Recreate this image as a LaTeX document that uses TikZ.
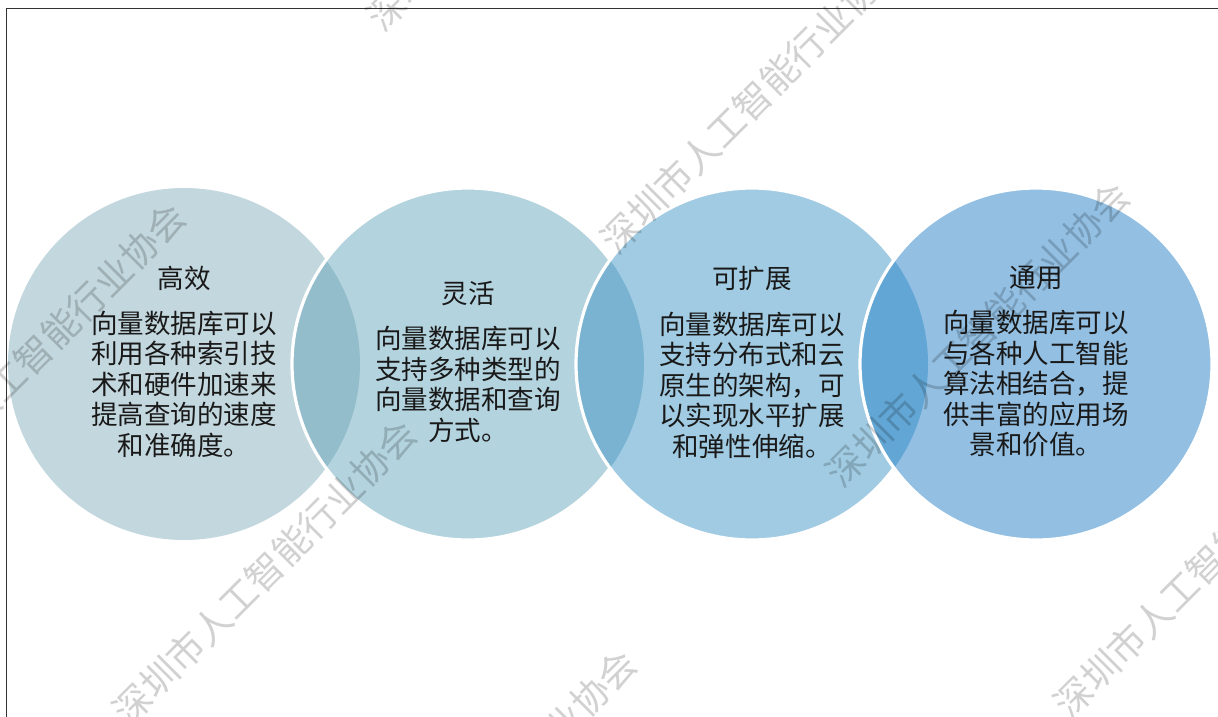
\documentclass[tikz,border=0pt]{standalone}
\usepackage{fontspec}
\setmainfont{Noto Sans CJK SC}
\definecolor{cA}{HTML}{C3D7DE}
\definecolor{cB}{HTML}{B3D3DE}
\definecolor{cC}{HTML}{A0CBE2}
\definecolor{cD}{HTML}{92BFE2}
\definecolor{oAB}{HTML}{94BDCB}
\definecolor{oBC}{HTML}{7AB3D1}
\definecolor{oCD}{HTML}{62A6D5}
\definecolor{framecol}{HTML}{333333}
\tikzset{
  ring/.style={draw=white, line width=2.4pt},
  txt/.style={align=center, inner sep=0pt, text=black!90,
    font=\fontsize{19.9pt}{22.9pt}\selectfont},
  wm/.style={rotate=45, inner sep=0pt, text=black, text opacity=0.18,
    font=\fontsize{28pt}{28pt}\selectfont},
  framebox/.style={draw=framecol, line width=1.4pt}
}
\begin{document}
\begin{tikzpicture}[x=0.75pt,y=-0.75pt]
\useasboundingbox (0,0) rectangle (1218,717);
\clip (0,0) rectangle (1218,717);
\fill[white] (0,0) rectangle (1218,717);
\draw[framebox] (6.5,8.5) rectangle (1260,760);
\def\R{132pt}
\coordinate (c1) at (184,364);
\coordinate (c2) at (468,364);
\coordinate (c3) at (752,364);
\coordinate (c4) at (1036,364);
% circles
\fill[cA] (c1) circle[radius=\R];
\fill[cB] (c2) circle[radius=\R];
\begin{scope}
  \clip (c1) circle[radius=\R];
  \fill[oAB] (c2) circle[radius=\R];
\end{scope}
\draw[ring] (c2) circle[radius=\R];
\fill[cC] (c3) circle[radius=\R];
\begin{scope}
  \clip (c2) circle[radius=\R];
  \fill[oBC] (c3) circle[radius=\R];
\end{scope}
\draw[ring] (c3) circle[radius=\R];
\fill[cD] (c4) circle[radius=\R];
\begin{scope}
  \clip (c3) circle[radius=\R];
  \fill[oCD] (c4) circle[radius=\R];
\end{scope}
\draw[ring] (c4) circle[radius=\R];
% texts
\node[txt] (t1) at (184,361.5) {高效\\[10.9pt]向量数据库可以\\利用各种索引技\\术和硬件加速来\\提高查询的速度\\和准确度。};
\node[txt] (t2) at (468,362) {灵活\\[10.9pt]向量数据库可以\\支持多种类型的\\向量数据和查询\\方式。};
\node[txt] (t3) at (752,362.5) {可扩展\\[10.9pt]向量数据库可以\\支持分布式和云\\原生的架构，可\\以实现水平扩展\\和弹性伸缩。};
\node[txt] (t4) at (1036,361.5) {通用\\[10.9pt]向量数据库可以\\与各种人工智能\\算法相结合，提\\供丰富的应用场\\景和价值。};
% watermarks
\foreach \n/\p in {wa/{(519,-122)}, wb/{(753,101)}, wc/{(34,355)}, wd/{(265,572)}, we/{(485,802)}, wf/{(978,334)}, wg/{(1206,565)}}{
  \node[wm] (\n) at \p {深圳市人工智能行业协会};
}
\end{tikzpicture}
\end{document}
